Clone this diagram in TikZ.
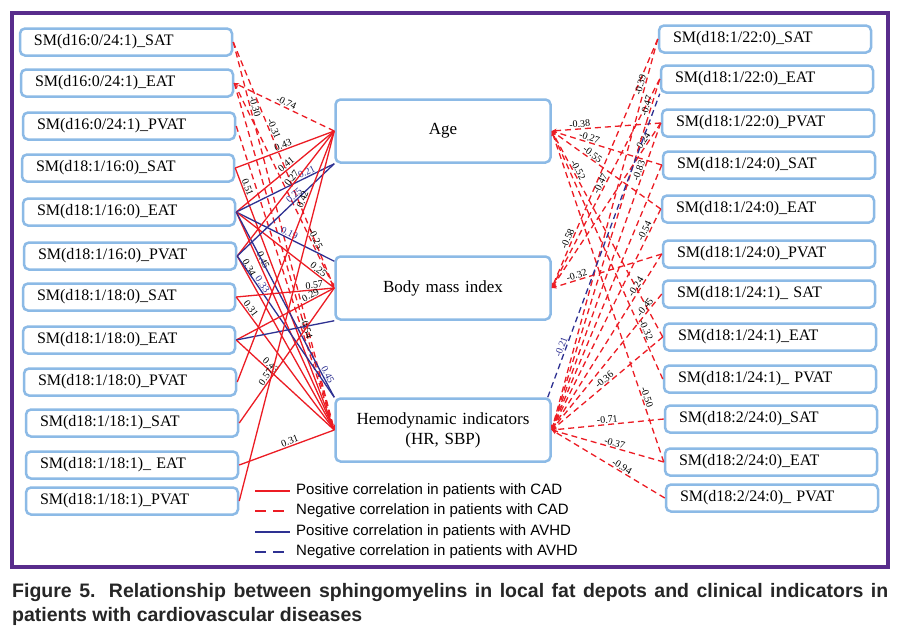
\documentclass[tikz,border=0pt]{standalone}
\usepackage{fontspec}
\setmainfont{Liberation Serif}
\newfontfamily\legf{Liberation Sans}
\newfontfamily\capf{Liberation Sans}
\usetikzlibrary{arrows.meta}
\definecolor{framec}{RGB}{88,44,140}
\definecolor{boxc}{RGB}{140,186,230}
\definecolor{redl}{RGB}{236,28,36}
\definecolor{bluel}{RGB}{46,49,146}
\begin{document}
\begin{tikzpicture}[x=1pt,y=-1pt,
 box/.style={draw=boxc, line width=2.5pt, rounded corners=5pt, fill=white, minimum width=212pt, minimum height=27pt, inner sep=0pt, text width=184pt, align=left, font=\fontsize{16}{18}\selectfont},
 cbox/.style={box, minimum width=215pt, minimum height=63pt, text width=200pt, font=\fontsize{17}{20}\selectfont, align=center},
 pr/.style={draw=redl, line width=1.3pt},
 nr/.style={draw=redl, line width=1.3pt, dash pattern=on 6pt off 4pt, -{Stealth[length=5pt,width=4pt]}},
 pb/.style={draw=bluel, line width=1.3pt},
 nb/.style={draw=bluel, line width=1.3pt, dash pattern=on 6pt off 4pt},
 lab/.style={sloped, above, inner sep=0.8pt, font=\fontsize{10}{10}\selectfont, text=black},
 labb/.style={lab, text=bluel},
 legtext/.style={anchor=west, inner sep=0pt, font=\legf\fontsize{15}{15}\selectfont},
]
\useasboundingbox (0,0) rectangle (900,640);
\fill[white] (0,0) rectangle (900,640);
\draw[framec, line width=4pt] (12,13) rectangle (888,567);

% left boxes
\node[box] (L1) at (126,42) {SM(d16:0/24:1)\_SAT};
\node[box] (L2) at (127,83) {SM(d16:0/24:1)\_EAT};
\node[box] (L3) at (129,126) {SM(d16:0/24:1)\_PVAT};
\node[box] (L4) at (128,168) {SM(d18:1/16:0)\_SAT};
\node[box] (L5) at (129,212) {SM(d18:1/16:0)\_EAT};
\node[box] (L6) at (130,256) {SM(d18:1/16:0)\_PVAT};
\node[box] (L7) at (129,297) {SM(d18:1/18:0)\_SAT};
\node[box] (L8) at (129,340) {SM(d18:1/18:0)\_EAT};
\node[box] (L9) at (130,382) {SM(d18:1/18:0)\_PVAT};
\node[box] (L10) at (132,423) {SM(d18:1/18:1)\_SAT};
\node[box] (L11) at (132,465) {SM(d18:1/18:1)\_ EAT};
\node[box] (L12) at (132,501) {SM(d18:1/18:1)\_PVAT};

% centre boxes
\node[cbox] (age) at (443,131) {Age};
\node[cbox] (bmi) at (443,288) {Body mass index};
\node[cbox] (hemo) at (443,430) {Hemodynamic indicators\\(HR, SBP)};

% right boxes
\node[box] (R1) at (765,39) {SM(d18:1/22:0)\_SAT};
\node[box] (R2) at (767,79) {SM(d18:1/22:0)\_EAT};
\node[box] (R3) at (768,123) {SM(d18:1/22:0)\_PVAT};
\node[box] (R4) at (769,165) {SM(d18:1/24:0)\_SAT};
\node[box] (R5) at (768,209) {SM(d18:1/24:0)\_EAT};
\node[box] (R6) at (769,254) {SM(d18:1/24:0)\_PVAT};
\node[box] (R7) at (769,294) {SM(d18:1/24:1)\_ SAT};
\node[box] (R8) at (770,337) {SM(d18:1/24:1)\_EAT};
\node[box] (R9) at (770,379) {SM(d18:1/24:1)\_ PVAT};
\node[box] (R10) at (771,419) {SM(d18:2/24:0)\_SAT};
\node[box] (R11) at (771,462) {SM(d18:2/24:0)\_EAT};
\node[box] (R12) at (772,498) {SM(d18:2/24:0)\_ PVAT};

% left: negative (CAD)
\draw[nr] (age.west) -- node[lab,pos=.5]{-0.74} (L2.east);
\draw[nr] (L1.east) -- node[lab,pos=.17]{-0.30} (hemo.west);
\draw[nr] (L1.east) -- node[lab,pos=.36]{-0.31} (bmi.west);
\draw[nr] (L2.east) -- node[lab,pos=.77]{-0.25} (bmi.west);
\draw[nr] (L2.east) -- (hemo.west);
\draw[nr] (L3.east) -- node[lab,pos=.67]{-0.54} (hemo.west);

% left: positive
\draw[pr] (L4.east) -- node[lab,pos=.5]{0.43} (age.west);
\draw[pr] (L4.east) -- node[lab,pos=.08]{0.51} (hemo.west);
\draw[pr] (L5.east) -- node[lab,pos=.54]{0.41} (age.west);
\draw[pb] (L5.east) -- node[labb,pos=.74]{0.21} (age.south west);
\draw[pb] (L5.east) -- node[labb,pos=.52]{0.19} ([yshift=-6pt]bmi.north west);
\draw[pr] (L5.east) -- node[lab,pos=.81]{0.25} (bmi.west);
\draw[pr] (L5.east) -- node[lab,pos=.23]{0.45} (hemo.west);
\draw[pb] (L5.east) -- node[labb,pos=.89]{0.45} (hemo.north west);
\draw[pr] (L6.east) -- node[lab,pos=.6]{0.27} (age.west);
\draw[pb] (L6.east) -- node[labb,pos=.62]{0.25} (age.south west);
\draw[pr] (L6.east) -- node[lab,pos=.08]{0.34} (hemo.west);
\draw[pb] (L6.east) -- node[labb,pos=.22]{0.33} (hemo.north west);
\draw[pr] (L7.east) -- node[lab,pos=.8]{0.57} (bmi.west);
\draw[pr] (L7.east) -- node[lab,pos=.11]{0.31} (hemo.west);
\draw[pr] (L8.east) -- node[lab,pos=.78]{0.29} (bmi.west);
\draw[pb] (L8.east) -- (bmi.south west);
\draw[pr] (L8.east) -- node[lab,pos=.32]{0.43} (hemo.west);
\draw[pr] (L9.east) -- node[lab,pos=.72]{0.42} (age.west);
\draw[pr] (L10.east) -- node[lab,pos=.32]{0.57} (bmi.west);
\draw[pr] (L11.east) -- node[lab,pos=.55]{0.31} (hemo.west);
\draw[pr] (L12.east) -- (age.west);

% right: negative (CAD)
\draw[nr] (R3.west) -- node[lab,pos=.74]{-0.38} (age.east);
\draw[nr] (R4.west) -- node[lab,pos=.67]{-0.27} (age.east);
\draw[nr] (R5.west) -- node[lab,pos=.65]{-0.55} (age.east);
\draw[nr] (R8.west) -- node[lab,pos=.8]{-0.52} (age.east);
\draw[nr] (R9.west) -- node[lab,pos=.19]{-0.32} (age.east);
\draw[nr] (R11.west) -- node[lab,pos=.19]{-0.50} (age.east);
\draw[nr] (R1.west) -- node[lab,pos=.81]{-0.58} (bmi.east);
\draw[nr] (R2.west) -- node[lab,pos=.51]{-0.47} (bmi.east);
\draw[nr] (R3.west) -- node[lab,pos=.13]{-0.24} (bmi.east);
\draw[nr] (R6.west) -- node[lab,pos=.76]{-0.32} (bmi.east);
\draw[nr] (R1.west) -- node[lab,pos=.12]{-0.39} (hemo.east);
\draw[nr] (R2.west) -- node[lab,pos=.08]{-0.47} (hemo.east);
\draw[nr] (R3.west) -- node[lab,pos=.16]{-0.83} (hemo.east);
\draw[nr] (R4.west) -- (hemo.east);
\draw[nr] (R5.west) -- node[lab,pos=.11]{-0.54} (hemo.east);
\draw[nr] (R6.west) -- node[lab,pos=.2]{-0.24} (hemo.east);
\draw[nr] (R7.west) -- node[lab,pos=.12]{-0.45} (hemo.east);
\draw[nr] (R8.west) -- node[lab,pos=.5]{-0.36} (hemo.east);
\draw[nr] (R10.west) -- node[lab,pos=.5]{-0.71} (hemo.east);
\draw[nr] (R11.west) -- node[lab,pos=.45]{-0.37} (hemo.east);
\draw[nr] (R12.west) -- node[lab,pos=.4]{-0.94} (hemo.east);
\draw[nb] ([xshift=-4pt]hemo.north east) -- node[labb,pos=.16]{-0.21} (R2.south west);

% legend
\node[legtext] (lg1) at (296,491) {Positive correlation in patients with CAD};
\node[legtext] (lg2) at (296,511) {Negative correlation in patients with CAD};
\node[legtext] (lg3) at (296,532) {Positive correlation in patients with AVHD};
\node[legtext] (lg4) at (296,552) {Negative correlation in patients with AVHD};
\draw[redl, line width=2.5pt] ([xshift=-41pt]lg1.west) -- ([xshift=-6pt]lg1.west);
\draw[redl, line width=2.5pt, dash pattern=on 11pt off 7pt] ([xshift=-41pt]lg2.west) -- ([xshift=-6pt]lg2.west);
\draw[bluel, line width=2.5pt] ([xshift=-41pt]lg3.west) -- ([xshift=-6pt]lg3.west);
\draw[bluel, line width=2.5pt, dash pattern=on 11pt off 7pt] ([xshift=-41pt]lg4.west) -- ([xshift=-6pt]lg4.west);

% caption
\node[anchor=north west, text width=876pt, align=justify, inner sep=0pt, font=\capf\bfseries\fontsize{19.5}{24}\selectfont, text=black!85] (cap) at (12,583) {Figure 5. Relationship between sphingomyelins in local fat depots and clinical indicators in patients with cardiovascular diseases};
\end{tikzpicture}
\end{document}
